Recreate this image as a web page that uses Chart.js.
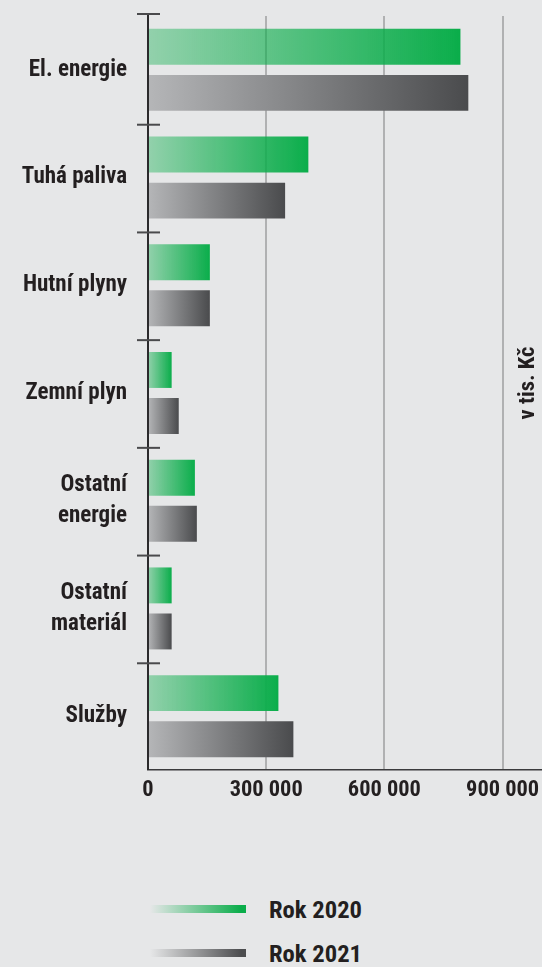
<!DOCTYPE html>
<html><head><meta charset="utf-8">
<script src="https://cdn.jsdelivr.net/npm/chart.js@4/dist/chart.umd.min.js"></script>
<style>
html,body{margin:0;padding:0;background:#e6e7e8;width:542px;height:967px;overflow:hidden;}
#wrap{position:absolute;left:0;top:0;width:542px;height:810px;}
.lg{position:absolute;left:150px;width:96px;height:8px;}
.lt{position:absolute;left:269px;font-weight:bold;color:#231f20;line-height:1;white-space:nowrap;}
</style></head><body>
<div id="wrap"><canvas id="c" width="542" height="810"></canvas></div>
<div class="lg" style="top:905px;background:linear-gradient(to right,rgba(10,173,74,0),#0aad4a 95%);"></div>
<div class="lt" id="l1"></div>
<div class="lg" style="top:949px;background:linear-gradient(to right,rgba(76,77,79,0),#4c4d4f 95%);"></div>
<div class="lt" id="l2"></div>
<script>
const categories = [["El. energie"], ["Tuhá paliva"], ["Hutní plyny"], ["Zemní plyn"], ["Ostatní","energie"], ["Ostatní","materiál"], ["Služby"]];
const values2020 = [793000, 407000, 157000, 60000, 119000, 60000, 331000];
const values2021 = [813000, 348000, 157000, 78000, 124000, 60000, 369000];
const xTicks = [0, 300000, 600000, 900000];
const seriesNames = ["Rok 2020", "Rok 2021"];
const unitLabel = "v tis. Kč";

// pick an installed condensed font
const mctx = document.createElement('canvas').getContext('2d');
function w(font, txt) { mctx.font = font; return mctx.measureText(txt).width; }
const probe = 'El. energie 300 000 WMmwi';
const candidates = ['Roboto Condensed', 'Liberation Sans Narrow', 'Arial Narrow', 'Open Sans Condensed', 'DejaVu Sans Condensed', 'Roboto'];
let FAM = 'DejaVu Sans Condensed';
for (const f of candidates) {
  const a = w('bold 20px "' + f + '", monospace', probe);
  const b = w('bold 20px monospace', probe);
  const c2 = w('bold 20px "' + f + '", serif', probe);
  const d = w('bold 20px serif', probe);
  if (a !== b || c2 !== d) { FAM = f; break; }
}
const FONT = '"' + FAM + '", sans-serif';
function sizeFor(txt, target) { return Math.round(20 * target / w('bold 20px ' + FONT, txt) * 10) / 10; }
const ySize = sizeFor('El. energie', 98);
const xSize = sizeFor('300 000', 73);
const legSize = sizeFor('Rok 2020', 93);
const unitSize = sizeFor(unitLabel, 73);

const l1 = document.getElementById('l1'), l2 = document.getElementById('l2');
[l1, l2].forEach((el, i) => {
  el.textContent = seriesNames[i];
  el.style.fontFamily = FONT; el.style.fontSize = legSize + 'px';
  el.style.top = (i === 0 ? 919 : 963) - Math.round(legSize * 0.86) + 'px';
});

function grad(startCol, endCol, fallback) {
  return (ctx) => {
    const chart = ctx.chart;
    const xs = chart.scales && chart.scales.x;
    if (!chart.chartArea || !xs || ctx.type !== 'data') return fallback;
    const v = ctx.raw;
    const x0 = xs.getPixelForValue(0), x1 = xs.getPixelForValue(v);
    if (!isFinite(x0) || !isFinite(x1) || x1 <= x0) return fallback;
    const g = chart.ctx.createLinearGradient(x0, 0, x1, 0);
    g.addColorStop(0, startCol);
    g.addColorStop(1, endCol);
    return g;
  };
}

const decor = {
  id: 'decor',
  afterDraw(chart) {
    const c = chart.ctx, ys = chart.scales.y, a = chart.chartArea;
    c.save();
    const n = categories.length;
    const bounds = [];
    for (let i = 0; i < n; i++) {
      let y;
      if (i === 0) y = ys.getPixelForTick(0) - (ys.getPixelForTick(1) - ys.getPixelForTick(0)) / 2 - 2;
      else y = (ys.getPixelForTick(i - 1) + ys.getPixelForTick(i)) / 2 + 1;
      bounds.push(y);
    }
    c.strokeStyle = '#2b2a2c'; c.lineWidth = 2;
    c.beginPath(); c.moveTo(a.left, bounds[0]); c.lineTo(a.left, a.bottom); c.stroke();
    c.strokeStyle = '#4a4a4c'; c.lineWidth = 2;
    bounds.forEach(y => { c.beginPath(); c.moveTo(a.left - 11, y); c.lineTo(a.left + 12, y); c.stroke(); });
    c.fillStyle = '#231f20';
    c.font = 'bold ' + unitSize + 'px ' + FONT;
    c.translate(528, 383);
    c.rotate(-Math.PI / 2);
    c.textAlign = 'center'; c.textBaseline = 'middle';
    c.fillText(unitLabel, 0, 0);
    c.restore();
  }
};

new Chart(document.getElementById('c'), {
  type: 'bar',
  data: {
    labels: categories,
    datasets: [
      { label: seriesNames[0], data: values2020, backgroundColor: grad('rgba(10,173,74,0.38)', '#0aad4a', '#0aad4a'), categoryPercentage: 0.855, barPercentage: 0.78 },
      { label: seriesNames[1], data: values2021, backgroundColor: grad('#b5b6b8', '#4a4b4d', '#4a4b4d'), categoryPercentage: 0.855, barPercentage: 0.78 }
    ]
  },
  options: {
    indexAxis: 'y',
    responsive: false,
    animation: false,
    devicePixelRatio: 1,
    layout: { padding: { top: 16, right: 0, left: 0, bottom: 0 } },
    plugins: { legend: { display: false }, tooltip: { enabled: false } },
    scales: {
      x: {
        min: 0, max: 1000000,
        z: 1,
        afterBuildTicks: (s) => { s.ticks = xTicks.map(v => ({ value: v })); },
        afterFit: (s) => { s.height = 40; s.paddingLeft = 0; s.paddingRight = 0; },
        grid: { color: 'rgba(110,111,113,0.45)', lineWidth: 2, drawTicks: false },
        border: { display: true, color: '#3a3a3c', width: 1.5 },
        ticks: {
          padding: 7, color: '#231f20',
          font: { family: FONT, size: xSize, weight: 'bold' },
          maxRotation: 0, autoSkip: false,
          callback: (v) => v === 0 ? '0' : String(v).replace(/\B(?=(\d{3})+(?!\d))/g, ' ')
        }
      },
      y: {
        grid: { display: false, drawTicks: false },
        border: { display: false },
        afterFit: (s) => { s.width = 148; s.paddingTop = 0; s.paddingBottom = 0; },
        ticks: {
          padding: 21, color: '#231f20',
          font: { family: FONT, size: ySize, weight: 'bold', lineHeight: 31 / ySize },
          autoSkip: false
        }
      }
    }
  },
  plugins: [decor]
});
</script>
</body></html>
